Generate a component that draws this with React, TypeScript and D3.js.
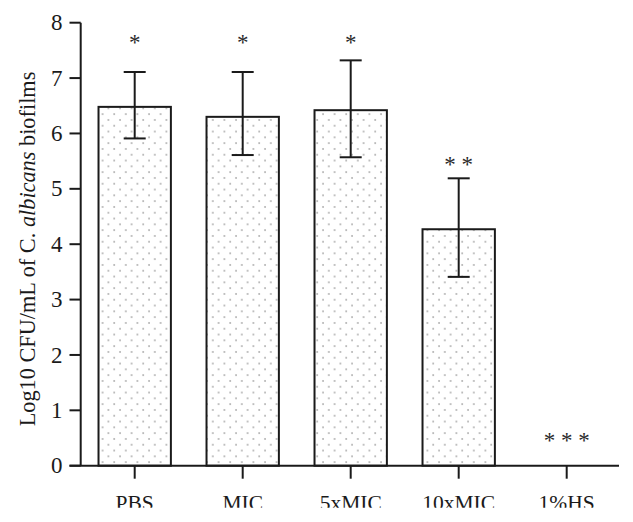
import React from "react";
import * as d3 from "d3";

const categories = ["PBS", "MIC", "5xMIC", "10xMIC", "1%HS"];
const means = [6.48, 6.3, 6.42, 4.27, 0];
const errLow = [5.91, 5.61, 5.57, 3.41, null];
const errHigh = [7.11, 7.11, 7.32, 5.19, null];
const stars = ["*", "*", "*", "* *", "* * *"];
const starLevels = [7.7, 7.7, 7.7, 5.5, 0.52];
const yTicks = [0, 1, 2, 3, 4, 5, 6, 7, 8];

const W = 633;
const H = 522;
const FONT = "'Liberation Serif', 'Times New Roman', serif";
const INK = "#1a1a1a";

export default function App() {
  const y = d3.scaleLinear().domain([0, 8]).range([465.7, 22.7]);
  const x = d3
    .scaleBand<string>()
    .domain(categories)
    .range([80.7, 620.7])
    .paddingInner(0.33)
    .paddingOuter(0.165);
  const bw = x.bandwidth();
  const axisX = 80.7;
  const y0 = y(0);
  const cap = 11;

  return (
    <svg
      width={W}
      height={H}
      style={{ position: "absolute", left: 0, top: 0, background: "#fff" }}
      fontFamily={FONT}
    >
      <defs>
        <pattern
          id="dots"
          patternUnits="userSpaceOnUse"
          width={11.6}
          height={11.6}
          x={2}
          y={2}
        >
          <rect width={11.6} height={11.6} fill="#fff" />
          <circle cx={2} cy={2} r={0.75} fill="#666" />
          <circle cx={7.8} cy={7.8} r={0.75} fill="#666" />
        </pattern>
        <clipPath id="labelClip">
          <rect x={0} y={0} width={W} height={507.7} />
        </clipPath>
      </defs>
      <rect width={W} height={H} fill="#fff" />

      {/* bars */}
      {categories.map((c, i) =>
        means[i] > 0 ? (
          <rect
            key={c}
            x={x(c)}
            y={y(means[i])}
            width={bw}
            height={y0 - y(means[i])}
            fill="url(#dots)"
            stroke={INK}
            strokeWidth={2}
          />
        ) : null
      )}

      {/* error bars */}
      {categories.map((c, i) => {
        const lo = errLow[i];
        const hi = errHigh[i];
        if (lo == null || hi == null) return null;
        const cx = (x(c) as number) + bw / 2;
        return (
          <g key={"e" + c} stroke={INK} strokeWidth={2}>
            <line x1={cx} x2={cx} y1={y(lo)} y2={y(hi)} />
            <line x1={cx - cap} x2={cx + cap} y1={y(hi)} y2={y(hi)} />
            <line x1={cx - cap} x2={cx + cap} y1={y(lo)} y2={y(lo)} />
          </g>
        );
      })}

      {/* stars */}
      {categories.map((c, i) => {
        const cx = (x(c) as number) + bw / 2;
        return (
          <text
            key={"s" + c}
            x={cx}
            y={y(starLevels[i]) + 11}
            textAnchor="middle"
            fontSize={23}
            fill="#2a2a2a"
            style={{ whiteSpace: "pre" }}
          >
            {stars[i]}
          </text>
        );
      })}

      {/* y axis */}
      <line x1={axisX} x2={axisX} y1={y(8)} y2={y0} stroke={INK} strokeWidth={2} />
      {yTicks.map((t) => (
        <g key={"yt" + t}>
          <line x1={69.5} x2={axisX} y1={y(t)} y2={y(t)} stroke={INK} strokeWidth={2} />
          <text
            x={62.5}
            y={y(t)}
            dy="0.33em"
            textAnchor="end"
            fontSize={23}
            fill={INK}
          >
            {t}
          </text>
        </g>
      ))}

      {/* x axis */}
      <line x1={69.5} x2={619} y1={y0} y2={y0} stroke={INK} strokeWidth={2} />
      {categories.map((c) => {
        const cx = (x(c) as number) + bw / 2;
        return (
          <g key={"xt" + c}>
            <line x1={cx} x2={cx} y1={y0} y2={y0 + 13} stroke={INK} strokeWidth={2} />
            <text
              x={cx}
              y={509.5}
              textAnchor="middle"
              fontSize={21.5}
              fill={INK}
              clipPath="url(#labelClip)"
            >
              {c}
            </text>
          </g>
        );
      })}

      {/* y label */}
      <text
        transform={`translate(35, 249) rotate(-90)`}
        textAnchor="middle"
        fontSize={22.3}
        fill={INK}
      >
        Log10 CFU/mL of C.{" "}
        <tspan fontStyle="italic">albicans</tspan> biofilms
      </text>
    </svg>
  );
}
